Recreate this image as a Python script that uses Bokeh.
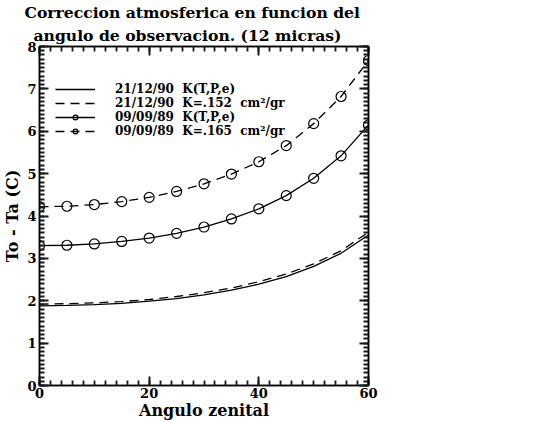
from bokeh.plotting import figure
from bokeh.models import (LinearAxis, Legend, LegendItem, Title, Range1d,
                          SingleIntervalTicker, CustomJSTickFormatter)
from bokeh.embed import file_html
from bokeh.resources import INLINE

# ---- data ----
angle = [0, 5, 10, 15, 20, 25, 30, 35, 40, 45, 50, 55, 60]
k_tpe_901221 = [1.88, 1.89, 1.91, 1.94, 1.99, 2.05, 2.14, 2.25, 2.39, 2.57, 2.81, 3.12, 3.55]
k_152_901221 = [1.92, 1.93, 1.95, 1.98, 2.03, 2.10, 2.19, 2.30, 2.45, 2.63, 2.87, 3.18, 3.62]
k_tpe_890909 = [3.30, 3.31, 3.34, 3.40, 3.48, 3.59, 3.74, 3.93, 4.17, 4.48, 4.89, 5.42, 6.15]
k_165_890909 = [4.22, 4.23, 4.27, 4.34, 4.44, 4.58, 4.76, 4.99, 5.28, 5.66, 6.18, 6.82, 7.67]

labels = ["21/12/90  K(T,P,e)",
          "21/12/90  K=.152  cm\u00b2/gr",
          "09/09/89  K(T,P,e)",
          "09/09/89  K=.165  cm\u00b2/gr"]
title_lines = ["Correccion atmosferica en funcion del",
               "angulo de observacion. (12 micras)"]
title_offsets = [-15, -6]
x_title = "Angulo zenital"
y_title = "To - Ta (C)"

FONT = "DejaVu Serif"
TICK = "#1a1a1a"

p = figure(width=536, height=422, output_backend="svg", toolbar_location=None,
           x_range=Range1d(0, 60), y_range=Range1d(0, 8),
           min_border_left=36, min_border_right=168, min_border_top=10,
           min_border_bottom=30)
p.grid.visible = False
p.outline_line_color = "black"
p.outline_line_width = 1.5
p.background_fill_color = "white"
p.border_fill_color = "white"


def style_axis(ax, show_labels=True):
    ax.axis_line_color = "black"
    ax.axis_line_width = 1.5
    ax.major_tick_in = 9
    ax.major_tick_out = 0
    ax.minor_tick_in = 5
    ax.minor_tick_out = 0
    ax.major_tick_line_color = TICK
    ax.minor_tick_line_color = TICK
    ax.major_tick_line_width = 2
    ax.minor_tick_line_width = 1.8
    ax.major_label_text_font = FONT
    ax.major_label_text_font_style = "bold"
    ax.major_label_text_font_size = "13px"
    ax.major_label_text_color = "black"
    ax.axis_label_text_font = FONT
    ax.axis_label_text_font_style = "bold"
    ax.axis_label_text_font_size = "16px"
    ax.axis_label_text_color = "black"
    if not show_labels:
        ax.formatter = CustomJSTickFormatter(code="return ''")
        ax.major_label_standoff = 0


p.xaxis.ticker = SingleIntervalTicker(interval=20, num_minor_ticks=10)
p.yaxis.ticker = SingleIntervalTicker(interval=1, num_minor_ticks=10)
style_axis(p.xaxis[0])
style_axis(p.yaxis[0])
p.xaxis.axis_label = x_title
p.yaxis.axis_label = y_title
p.xaxis.major_label_standoff = 2
p.yaxis.major_label_standoff = 3
p.xaxis.axis_label_standoff = 0
p.yaxis.axis_label_standoff = 2

top_ax = LinearAxis(ticker=SingleIntervalTicker(interval=20, num_minor_ticks=10))
right_ax = LinearAxis(ticker=SingleIntervalTicker(interval=1, num_minor_ticks=10))
style_axis(top_ax, False)
style_axis(right_ax, False)
p.add_layout(top_ax, "above")
p.add_layout(right_ax, "right")

for i in (1, 0):
    p.add_layout(Title(text=title_lines[i], align="left",
                       offset=title_offsets[i],
                       standoff=(4 if i == 1 else 0),
                       text_font=FONT, text_font_style="bold",
                       text_font_size="15.6px", text_color="black",
                       text_line_height=1.0), "above")

# ---- data curves ----
r1 = p.line(angle, k_tpe_901221, line_color="black", line_width=1.3)
r2 = p.line(angle, k_152_901221, line_color="black", line_width=1.3,
            line_dash="9 6")
r3 = p.line(angle, k_tpe_890909, line_color="black", line_width=1.3)
r3m = p.scatter(angle, k_tpe_890909, marker="circle", size=10,
                fill_color=None, line_color="black", line_width=1.2)
r4 = p.line(angle, k_165_890909, line_color="black", line_width=1.3,
            line_dash="9 6")
r4m = p.scatter(angle, k_165_890909, marker="circle", size=10,
                fill_color=None, line_color="black", line_width=1.2)

item_renderers = [[r1], [r2], [r3, r3m], [r4, r4m]]
legend_offsets = [289, 275, 261, 247]
for lab, rends, vy in zip(labels, item_renderers, legend_offsets):
    lg = Legend(items=[LegendItem(label=lab, renderers=rends)],
                location=(16, vy), padding=0, margin=0, spacing=0,
                glyph_width=40, glyph_height=12, label_height=12,
                label_standoff=20, border_line_alpha=0,
                background_fill_alpha=0,
                label_text_font=FONT, label_text_font_style="bold",
                label_text_font_size="12px", label_text_color="black")
    p.add_layout(lg, "center")

open("out.html", "w").write(file_html(p, INLINE))
